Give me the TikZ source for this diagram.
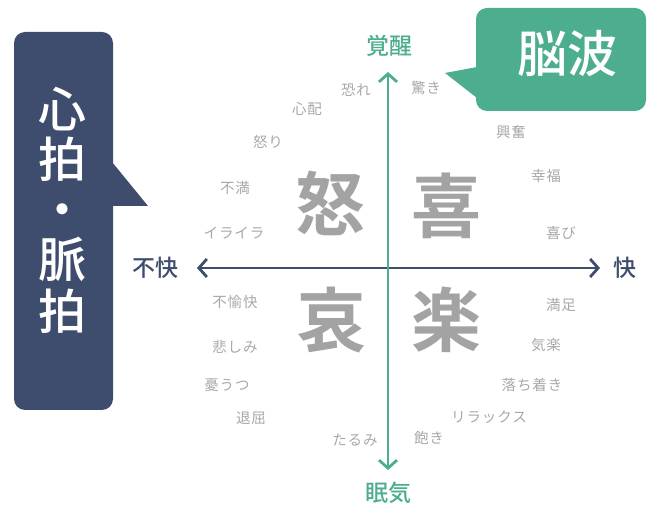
\documentclass[tikz,border=0pt]{standalone}
\usepackage{fontspec}
\usetikzlibrary{arrows.meta}
\newfontfamily\jp{Noto Sans CJK JP}
\newfontfamily\jpsmall[LetterSpace=6]{Noto Sans CJK JP}
\newfontfamily\jpbold{Noto Sans CJK JP Bold}
\newfontfamily\jpmed{Noto Sans CJK JP Medium}
\definecolor{navy}{HTML}{3E4D6D}
\definecolor{teal}{HTML}{4DAD8F}
\definecolor{biggray}{HTML}{A3A3A3}
\definecolor{lblgray}{HTML}{A8A8A8}
\tikzset{
  bubble/.style={rounded corners=11pt, inner sep=0pt},
  vchar/.style={text=white, font=\jpmed\fontsize{48}{48}\selectfont, inner sep=0pt},
  bigchar/.style={text=biggray, font=\jpbold\fontsize{70}{70}\selectfont, inner sep=0pt},
  lbl/.style={text=lblgray, font=\jpsmall\fontsize{14.5}{14.5}\selectfont, inner sep=0pt},
  axlbl/.style={font=\jpmed\fontsize{23}{23}\selectfont, inner sep=0pt},
  axarrow/.style={line width=2.8pt, -{Straight Barb[length=8pt,width=18pt,line width=2.8pt]}},
}
\begin{document}
\begin{tikzpicture}[x=1pt,y=-1pt]
\useasboundingbox (0,0) rectangle (648,510);
% left bubble
\node[bubble, fill=navy, minimum width=99pt, minimum height=378pt] (hb) at (63.5,221) {};
\coordinate (hbt1) at (112,162);
\coordinate (hbt2) at (148,206);
\coordinate (hbt3) at (112,206);
\fill[navy] (hbt1) -- (hbt2) -- (hbt3) -- cycle;
\node[vchar] (c1) at (62,109) {心};
\node[vchar] (c2) at (62,159) {拍};
\node[vchar] (c3) at (62,216) {・};
\node[vchar] (c4) at (62,259) {脈};
\node[vchar] (c5) at (62,311) {拍};
% right bubble
\node[bubble, fill=teal, minimum width=170pt, minimum height=103pt] (bw) at (561,59.5) {};
\coordinate (bwt1) at (477,67);
\coordinate (bwt2) at (445,73);
\coordinate (bwt3) at (477,98);
\fill[teal] (bwt1) -- (bwt2) -- (bwt3) -- cycle;
\node[vchar, font=\jpmed\fontsize{50}{50}\selectfont] (bwtext) at (567,54) {脳波};
% axes
\node[axlbl, text=teal] (up) at (389,46) {覚醒};
\node[axlbl, text=teal] (down) at (388,493) {眠気};
\node[axlbl, text=navy] (left) at (155,268) {不快};
\node[axlbl, text=navy] (right) at (625,268) {快};
\coordinate (ytop) at (388,72);
\coordinate (ybot) at (388,470);
\coordinate (xl) at (197,268);
\coordinate (xr) at (600,268);
\draw[axarrow, navy] (ytop |- xl) -- (xl);
\draw[axarrow, navy] (ytop |- xl) -- (xr);
\draw[axarrow, teal] (ytop |- xl) -- (ytop);
\draw[axarrow, teal] (ytop |- xl) -- (ybot);
% big characters
\node[bigchar] (ikari) at (330,203) {怒};
\node[bigchar] (yoro) at (446,206) {喜};
\node[bigchar] (ai) at (331,320) {哀};
\node[bigchar] (raku) at (446,320) {楽};
% small labels
\node[lbl] (l1) at (356,90) {恐れ};
\node[lbl] (l2) at (307,109) {心配};
\node[lbl] (l3) at (268,142) {怒り};
\node[lbl] (l4) at (235,188) {不満};
\node[lbl] (l5) at (234,233) {イライラ};
\node[lbl] (r1) at (426,88) {驚き};
\node[lbl] (r2) at (511,132) {興奮};
\node[lbl] (r3) at (546,176) {幸福};
\node[lbl] (r4) at (561,233) {喜び};
\node[lbl] (b1) at (235,302) {不愉快};
\node[lbl] (b2) at (235,347) {悲しみ};
\node[lbl] (b3) at (227,385) {憂うつ};
\node[lbl] (b4) at (251,418) {退屈};
\node[lbl] (b5) at (355,440) {たるみ};
\node[lbl] (d1) at (561,305) {満足};
\node[lbl] (d2) at (546,345) {気楽};
\node[lbl] (d3) at (532,385) {落ち着き};
\node[lbl] (d4) at (489,417) {リラックス};
\node[lbl] (d5) at (429,438) {飽き};
\end{tikzpicture}
\end{document}
